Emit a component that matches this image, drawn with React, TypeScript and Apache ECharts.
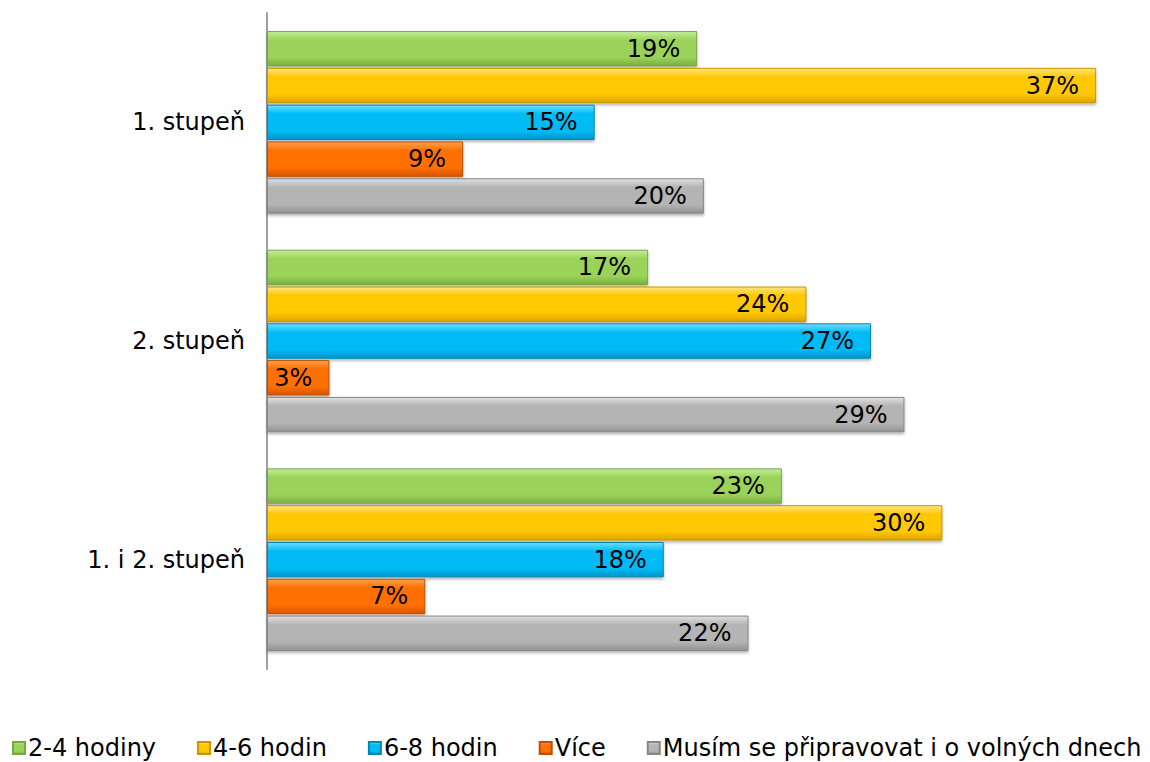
import React, { useEffect, useRef } from "react";
import * as echarts from "echarts";

const categories = ["1. stupeň", "2. stupeň", "1. i 2. stupeň"];
const seriesNames = ["2-4 hodiny", "4-6 hodin", "6-8 hodin", "Více", "Musím se připravovat i o volných dnech"];
const hours2to4 = [19.3, 17.1, 23.1];
const hours4to6 = [37.2, 24.2, 30.3];
const hours6to8 = [14.7, 27.1, 17.8];
const more = [8.8, 2.8, 7.1];
const weekends = [19.6, 28.6, 21.6];

const palettes = [
  { top: "#C2EE96", mid: "#9BD35A", bot: "#7AAE40", border: "#78A845" },
  { top: "#FFE580", mid: "#FFC800", bot: "#DDA400", border: "#C99400" },
  { top: "#70DDFF", mid: "#00BBF5", bot: "#0096CC", border: "#0086B5" },
  { top: "#FFA050", mid: "#FF7000", bot: "#D65600", border: "#C04C00" },
  { top: "#E0E0E0", mid: "#B4B4B4", bot: "#929292", border: "#868686" },
];

export default function App() {
  const ref = useRef<HTMLDivElement>(null);
  useEffect(() => {
    if (!ref.current) return;
    const chart = echarts.init(ref.current, null, { renderer: "svg" });
    const data = [hours2to4, hours4to6, hours6to8, more, weekends];
    const font = "DejaVu Sans, Verdana, sans-serif";
    chart.setOption({
      animation: false,
      grid: { left: 267, top: 13, bottom: 93, width: 847, containLabel: false },
      legend: {
        left: 12,
        top: 735,
        width: 1138,
        padding: 0,
        itemWidth: 12,
        itemHeight: 12,
        itemGap: 41,
        icon: "rect",
        textStyle: { fontSize: 24, lineHeight: 26, color: "#000", fontFamily: font, padding: [0, 0, 0, -2] },
        data: seriesNames,
      },
      xAxis: {
        type: "value",
        min: 0,
        max: 38,
        show: false,
        splitLine: { show: false },
      },
      yAxis: {
        type: "category",
        inverse: true,
        data: categories,
        axisLine: { show: true, lineStyle: { color: "#A0A0A0", width: 2 } },
        axisTick: { show: false },
        axisLabel: { fontSize: 24, color: "#000", fontFamily: font, margin: 22 },
      },
      series: seriesNames.map((name, i) => ({
        name,
        type: "bar",
        data: data[i],
        barGap: "4%",
        barCategoryGap: "16.5%",
        itemStyle: {
          color: new echarts.graphic.LinearGradient(0, 0, 0, 1, [
            { offset: 0, color: palettes[i].top },
            { offset: 0.25, color: palettes[i].mid },
            { offset: 0.75, color: palettes[i].mid },
            { offset: 1, color: palettes[i].bot },
          ]),
          borderColor: palettes[i].border,
          borderWidth: 1,
          shadowColor: "rgba(0,0,0,0.3)",
          shadowBlur: 3,
          shadowOffsetY: 2,
        },
        label: {
          show: true,
          position: "insideRight",
          distance: 17,
          color: "#000",
          fontSize: 24,
          fontFamily: font,
          formatter: (p: any) => Math.round(p.value) + "%",
        },
      })),
    });
    return () => chart.dispose();
  }, []);
  return (
    <div
      ref={ref}
      style={{ position: "fixed", left: 0, top: 0, width: 1150, height: 762, background: "#fff" }}
    />
  );
}
